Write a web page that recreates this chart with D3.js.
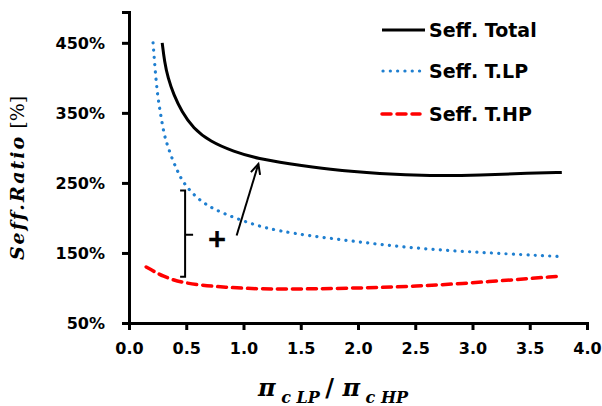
<!DOCTYPE html>
<html>
<head>
<meta charset="utf-8">
<script src="https://cdn.jsdelivr.net/npm/d3@7"></script>
<style>
  body { margin: 0; background: #fff; }
  .tick text { font-family: "DejaVu Sans", sans-serif; font-weight: bold; font-size: 16px; fill: #000; }
</style>
</head>
<body>
<script>
// Seff ratio vs pressure ratio split
var xTotal = [0.29, 0.31, 0.34, 0.39, 0.46, 0.56, 0.71, 0.91, 1.14, 1.38, 1.75, 2.19, 2.63, 3.07, 3.5, 3.78];
var total  = [450, 423, 400, 376, 352, 328, 309, 295, 284, 278, 269, 263, 260, 261, 264, 265];

var xLP = [0.21, 0.227, 0.248, 0.277, 0.306, 0.343, 0.387, 0.43, 0.47, 0.59, 0.74, 0.97, 1.27, 1.89, 2.51, 3.15, 3.75];
var tLP = [450, 414, 376, 347, 319, 300, 280, 265, 251, 228, 212, 197, 181, 168, 156, 150, 145];

var xHP = [0.15, 0.3, 0.47, 0.75, 1.0, 1.3, 1.9, 2.5, 3.15, 3.77];
var tHP = [130, 116, 107, 102, 99.5, 98, 99.5, 102, 109, 117];

var xTicks = [0, 0.5, 1, 1.5, 2, 2.5, 3, 3.5, 4];
var yTicks = [50, 150, 250, 350, 450];

var legendNames = ["Seff. Total", "Seff. T.LP", "Seff. T.HP"];

function draw_chart() {
    var width = 602, height = 406;
    var svg = d3.select("body").append("svg")
                .attr("width", width)
                .attr("height", height);

    var x = d3.scaleLinear().domain([0, 4]).range([129, 587]);
    var y = d3.scaleLinear().domain([50, 494]).range([323, 12]);

    // axes
    var xAxis = svg.append("g")
        .attr("transform", "translate(0," + y(50) + ")")
        .call(d3.axisBottom(x).tickValues(xTicks).tickSize(7).tickPadding(13)
              .tickFormat(d3.format(".1f")));
    var yAxis = svg.append("g")
        .attr("transform", "translate(" + x(0) + ",0)")
        .call(d3.axisLeft(y).tickValues(yTicks).tickSize(7).tickPadding(17)
              .tickFormat(function(d) { return d + "%"; }));
    [xAxis, yAxis].forEach(function(a) {
        a.select(".domain").attr("stroke", "#000").attr("stroke-width", 3);
        a.selectAll(".tick line").attr("stroke", "#000").attr("stroke-width", 3);
    });
    yAxis.selectAll(".tick text").attr("dy", "0.36em");

    var line = d3.line()
        .x(function(d) { return x(d[0]); })
        .y(function(d) { return y(d[1]); })
        .curve(d3.curveBasis);

    var series = [
        {xs: xTotal, ys: total, color: "#000", width: 3, dash: null, cap: "butt"},
        {xs: xLP, ys: tLP, color: "#1f7fd0", width: 3.2, dash: "0.1 7.2", cap: "round"},
        {xs: xHP, ys: tHP, color: "#ff0000", width: 3.5, dash: "9 6", cap: "round"}
    ];

    series.forEach(function(s) {
        svg.append("path")
            .datum(d3.zip(s.xs, s.ys))
            .attr("d", line)
            .attr("fill", "none")
            .attr("stroke", s.color)
            .attr("stroke-width", s.width)
            .attr("stroke-linecap", s.cap)
            .attr("stroke-dasharray", s.dash);
    });

    // bracket, plus and arrow
    var bx = x(0.49);
    svg.append("path")
        .attr("d", "M" + (bx - 5) + "," + y(239) + "H" + bx + "V" + y(116) + "H" + (bx - 5)
              + "M" + bx + "," + y(176) + "H" + (bx + 8))
        .attr("fill", "none").attr("stroke", "#000").attr("stroke-width", 2);
    svg.append("text")
        .attr("x", x(0.77)).attr("y", y(171))
        .attr("text-anchor", "middle").attr("dy", "0.36em")
        .attr("font-family", "DejaVu Sans").attr("font-weight", "bold")
        .attr("font-size", 24).attr("stroke", "#000").attr("stroke-width", 0.6)
        .text("+");

    var ax1 = x(0.94), ay1 = y(175), ax2 = x(1.13), ay2 = y(277);
    var ang = Math.atan2(ay2 - ay1, ax2 - ax1);
    svg.append("line")
        .attr("x1", ax1).attr("y1", ay1).attr("x2", ax2).attr("y2", ay2)
        .attr("stroke", "#000").attr("stroke-width", 2);
    var hl = 11, ha = 0.45;
    svg.append("path")
        .attr("d", "M" + (ax2 - hl * Math.cos(ang - ha)) + "," + (ay2 - hl * Math.sin(ang - ha))
              + "L" + ax2 + "," + ay2
              + "L" + (ax2 - hl * Math.cos(ang + ha)) + "," + (ay2 - hl * Math.sin(ang + ha)))
        .attr("fill", "none").attr("stroke", "#000").attr("stroke-width", 2);

    // legend
    var legend = svg.append("g");
    var ly = [30, 71, 114];
    series.forEach(function(s, i) {
        legend.append("line")
            .attr("x1", i == 1 ? 383 : 382).attr("x2", i == 0 ? 425 : 420)
            .attr("y1", ly[i]).attr("y2", ly[i])
            .attr("stroke", s.color).attr("stroke-width", s.width)
            .attr("stroke-linecap", s.cap)
            .attr("stroke-dasharray", s.dash);
        legend.append("text")
            .attr("x", 429).attr("y", ly[i] + 7)
            .attr("font-family", "DejaVu Sans").attr("font-weight", "bold")
            .attr("font-size", 19).attr("fill", "#000")
            .text(legendNames[i]);
    });

    // axis titles
    var xt = svg.append("text")
        .attr("x", 258).attr("y", 396)
        .attr("font-family", "DejaVu Serif").attr("font-weight", "bold")
        .attr("font-style", "italic").attr("fill", "#000");
    xt.append("tspan").attr("font-size", 24).text("\u03c0");
    xt.append("tspan").attr("font-size", 16).attr("dy", 7).text(" c LP ");
    xt.append("tspan").attr("font-size", 24).attr("dy", -7).attr("font-style", "normal")
        .attr("font-family", "DejaVu Sans").text("/ ");
    xt.append("tspan").attr("font-size", 24).text("\u03c0");
    xt.append("tspan").attr("font-size", 16).attr("dy", 7).text(" c HP");

    var yt = svg.append("text")
        .attr("transform", "translate(24,178) rotate(-90)")
        .attr("text-anchor", "middle")
        .attr("font-family", "DejaVu Serif").attr("fill", "#000");
    yt.append("tspan").attr("font-size", 19).attr("font-weight", "bold")
        .attr("font-style", "italic").attr("letter-spacing", 2).text("Seff.Ratio");
    yt.append("tspan").attr("font-size", 19).text(" [%]");
}

document.addEventListener("DOMContentLoaded", draw_chart);
</script>
</body>
</html>
